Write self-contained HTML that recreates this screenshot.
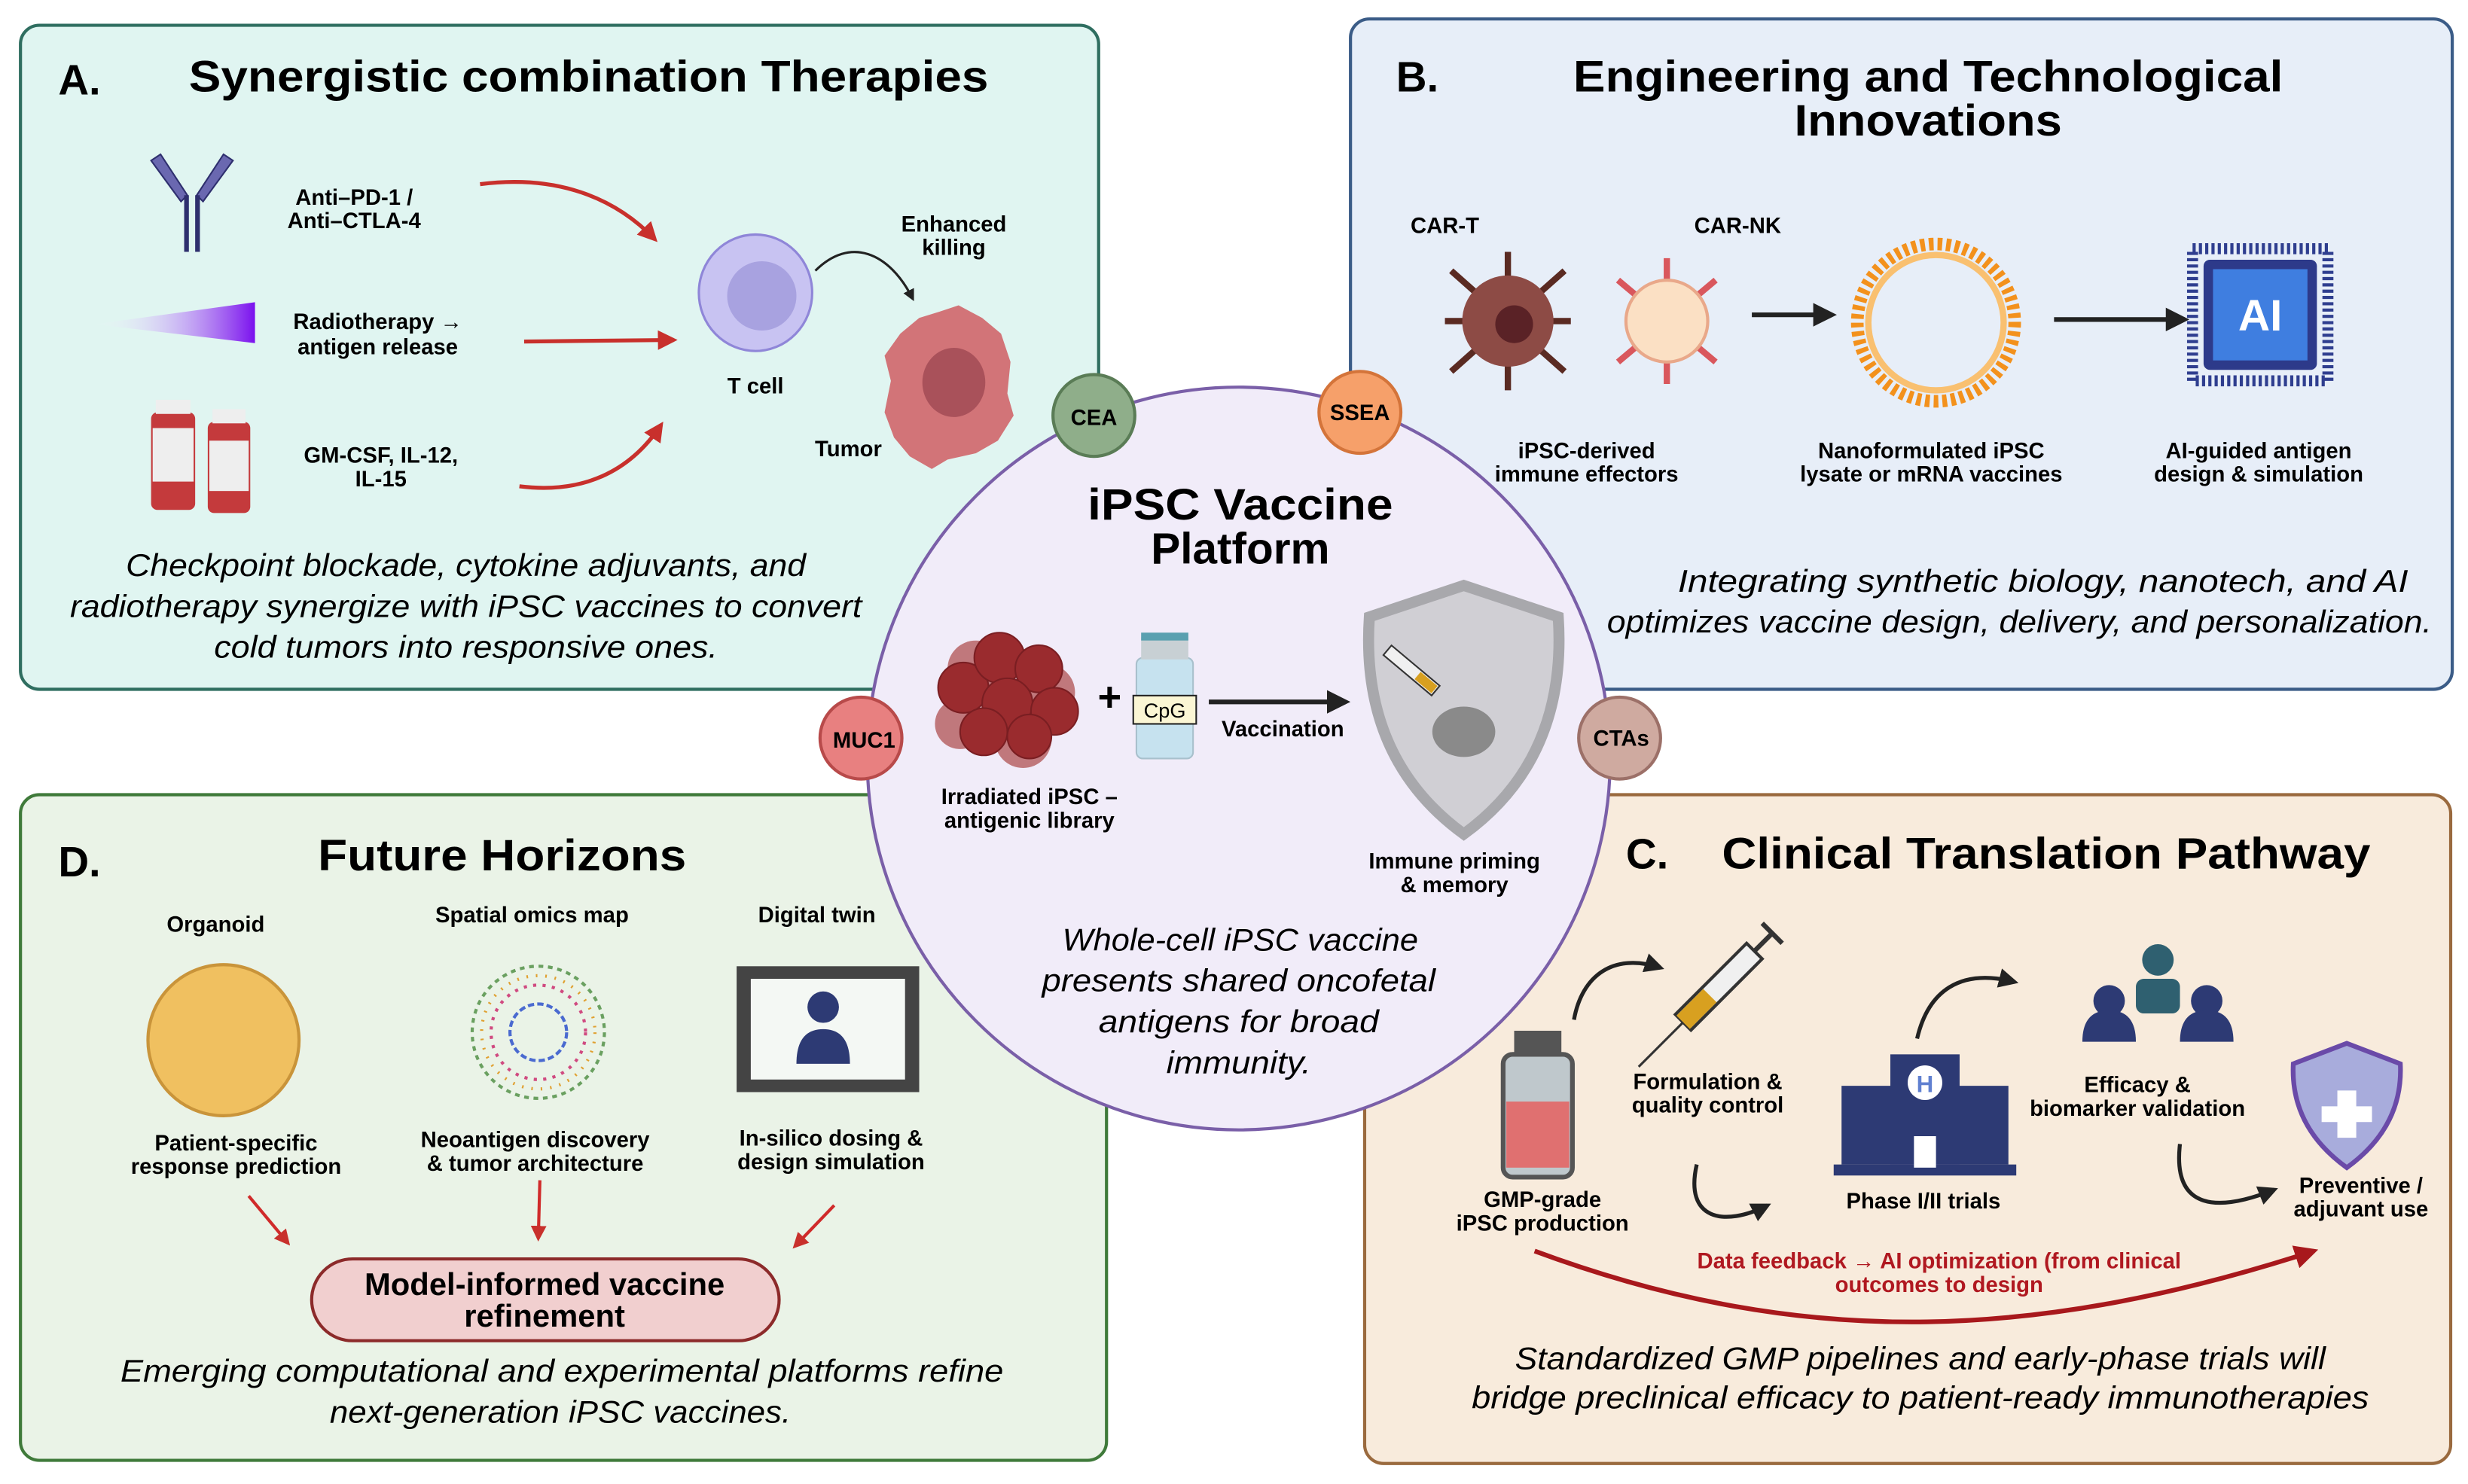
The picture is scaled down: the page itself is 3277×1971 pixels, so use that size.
<!DOCTYPE html>
<html><head><meta charset="utf-8"><style>html,body{margin:0;padding:0;background:#fff}svg{display:block}text{font-family:"Liberation Sans",sans-serif}</style></head><body>
<svg width="3277" height="1971" viewBox="0 0 1568 943" xmlns="http://www.w3.org/2000/svg">
<defs>
<marker id="ar" viewBox="0 0 10 10" refX="8" refY="5" markerWidth="5" markerHeight="5" orient="auto"><path d="M0,0L10,5L0,10z" fill="#c8302c"/></marker>
<marker id="ak" viewBox="0 0 10 10" refX="8" refY="5" markerWidth="5" markerHeight="5" orient="auto"><path d="M0,0L10,5L0,10z" fill="#222"/></marker>
<marker id="ad" viewBox="0 0 10 10" refX="8" refY="5" markerWidth="5" markerHeight="5" orient="auto"><path d="M0,0L10,5L0,10z" fill="#a8181c"/></marker>
<linearGradient id="rg" x1="0" x2="1"><stop offset="0" stop-color="#fff" stop-opacity="0"/><stop offset="1" stop-color="#7a10ee"/></linearGradient>
</defs>
<!-- Panels -->
<rect x="13" y="16" width="685" height="422" rx="12" fill="#e0f5f1" stroke="#2f6e60" stroke-width="2"/>
<rect x="858" y="12" width="700" height="426" rx="12" fill="#e7eef8" stroke="#3b5c87" stroke-width="2"/>
<rect x="13" y="505" width="690" height="423" rx="12" fill="#eaf3e7" stroke="#3f7a3a" stroke-width="2"/>
<rect x="867" y="505" width="690" height="425" rx="12" fill="#f8ebdc" stroke="#9a6a3e" stroke-width="2"/>
<!-- Panel A -->
<text x="37" y="60" font-size="27" font-weight="bold">A.</text>
<text x="120" y="58" font-size="28" font-weight="bold" textLength="508" lengthAdjust="spacingAndGlyphs">Synergistic combination Therapies</text>
<g fill="#6a68b0" stroke="#2e2f6e" stroke-width="1"><path d="M96,102l6,-4l17,26l-4,4z"/><path d="M148,102l-6,-4l-17,26l4,4z"/></g>
<rect x="117" y="124" width="3" height="36" fill="#2e2f6e"/><rect x="124" y="124" width="3" height="36" fill="#2e2f6e"/>
<g font-size="14" font-weight="bold" text-anchor="middle"><text x="225" y="130">Anti–PD-1 /</text><text x="225" y="145">Anti–CTLA-4</text>
<text x="240" y="209">Radiotherapy →</text><text x="240" y="225">antigen release</text>
<text x="242" y="294">GM-CSF, IL-12,</text><text x="242" y="309">IL-15</text>
<text x="480" y="250">T cell</text><text x="606" y="147">Enhanced</text><text x="606" y="162">killing</text><text x="539" y="290">Tumor</text></g>
<path d="M60,206L162,192L162,218z" fill="url(#rg)"/>
<g fill="#c43a3c"><rect x="96" y="262" width="28" height="62" rx="4"/><rect x="132" y="268" width="27" height="58" rx="4"/></g>
<g fill="#eee"><rect x="97" y="272" width="26" height="34"/><rect x="133" y="280" width="25" height="32"/><rect x="99" y="254" width="22" height="9"/><rect x="135" y="260" width="21" height="9"/></g>
<g fill="none" stroke="#c8302c" stroke-width="2.5" marker-end="url(#ar)"><path d="M305,117C360,110 395,130 416,152"/><path d="M333,217L428,216"/><path d="M330,309C370,314 400,300 420,270"/></g>
<ellipse cx="480" cy="186" rx="36" ry="37" fill="#c8c3f2" stroke="#8f86d8" stroke-width="1.5"/><circle cx="484" cy="188" r="22" fill="#a8a2e0"/>
<path d="M518,172C540,150 565,160 580,190" fill="none" stroke="#222" stroke-width="1.5" marker-end="url(#ak)"/>
<g transform="translate(14,0)">
<path d="M583,198l12,-4l15,8l12,10l6,18l-2,20l4,14l-10,16l-14,8l-18,4l-10,6l-14,-8l-10,-12l-6,-16l4,-20l-4,-16l10,-14l12,-10z" fill="#d27478"/>
<ellipse cx="592" cy="243" rx="20" ry="22" fill="#a9515a"/></g>
<g font-size="20" font-style="italic" text-anchor="middle"><text x="296" y="366" textLength="432" lengthAdjust="spacingAndGlyphs">Checkpoint blockade, cytokine adjuvants, and</text><text x="296" y="392" textLength="503" lengthAdjust="spacingAndGlyphs">radiotherapy synergize with iPSC vaccines to convert</text><text x="296" y="418" textLength="320" lengthAdjust="spacingAndGlyphs">cold tumors into responsive ones.</text></g>
<!-- Panel B -->
<text x="887" y="58" font-size="27" font-weight="bold">B.</text>
<text x="1225" y="58" font-size="28" font-weight="bold" text-anchor="middle" textLength="451" lengthAdjust="spacingAndGlyphs">Engineering and Technological</text>
<text x="1225" y="86" font-size="28" font-weight="bold" text-anchor="middle" textLength="170" lengthAdjust="spacingAndGlyphs">Innovations</text>
<g font-size="14" font-weight="bold" text-anchor="middle"><text x="918" y="148">CAR-T</text><text x="1104" y="148">CAR-NK</text>
<text x="1008" y="291">iPSC-derived</text><text x="1008" y="306">immune effectors</text>
<text x="1227" y="291">Nanoformulated iPSC</text><text x="1227" y="306">lysate or mRNA vaccines</text>
<text x="1435" y="291">AI-guided antigen</text><text x="1435" y="306">design &amp; simulation</text></g>
<g stroke="#5a2a22" stroke-width="4"><line x1="958" y1="160" x2="958" y2="248"/><line x1="922" y1="172" x2="994" y2="236"/><line x1="994" y1="172" x2="922" y2="236"/><line x1="918" y1="204" x2="998" y2="204"/></g>
<circle cx="958" cy="204" r="29" fill="#8d4b45"/><circle cx="962" cy="206" r="12" fill="#5a2226"/>
<g stroke="#d9575d" stroke-width="4"><line x1="1059" y1="164" x2="1059" y2="244"/><line x1="1028" y1="178" x2="1090" y2="230"/><line x1="1090" y1="178" x2="1028" y2="230"/></g>
<circle cx="1059" cy="204" r="26" fill="#fbe0c4" stroke="#e9a88a" stroke-width="2"/>
<path d="M1113,200L1164,200" stroke="#222" stroke-width="3" marker-end="url(#ak)"/>
<circle cx="1230" cy="205" r="50" fill="none" stroke="#f3911c" stroke-width="8" stroke-dasharray="3 2.5"/>
<circle cx="1230" cy="205" r="43" fill="none" stroke="#f9c070" stroke-width="4"/>
<path d="M1305,203L1388,203" stroke="#222" stroke-width="3" marker-end="url(#ak)"/>
<rect x="1393" y="158" width="86" height="84" fill="none" stroke="#2f3e8f" stroke-width="7" stroke-dasharray="2 2"/>
<rect x="1400" y="165" width="72" height="70" rx="4" fill="#2d3a8a"/><rect x="1406" y="171" width="60" height="58" fill="#3f7ee0"/>
<text x="1436" y="210" font-size="28" font-weight="bold" fill="#fff" text-anchor="middle">AI</text>
<g font-size="20" font-style="italic" text-anchor="middle"><text x="1298" y="376" textLength="464" lengthAdjust="spacingAndGlyphs">Integrating synthetic biology, nanotech, and AI</text><text x="1283" y="402" textLength="524" lengthAdjust="spacingAndGlyphs">optimizes vaccine design, delivery, and personalization.</text></g>
<!-- Panel D -->
<text x="37" y="557" font-size="27" font-weight="bold">D.</text>
<text x="319" y="553" font-size="28" font-weight="bold" text-anchor="middle" textLength="234" lengthAdjust="spacingAndGlyphs">Future Horizons</text>
<g font-size="14" font-weight="bold" text-anchor="middle"><text x="137" y="592">Organoid</text><text x="338" y="586">Spatial omics map</text><text x="519" y="586">Digital twin</text>
<text x="150" y="731">Patient-specific</text><text x="150" y="746">response prediction</text>
<text x="340" y="729">Neoantigen discovery</text><text x="340" y="744">&amp; tumor architecture</text>
<text x="528" y="728">In-silico dosing &amp;</text><text x="528" y="743">design simulation</text></g>
<circle cx="142" cy="661" r="48" fill="#f0c060" stroke="#c9943a" stroke-width="2"/>
<g fill="none" stroke-width="2"><circle cx="342" cy="656" r="42" stroke="#6aa060" stroke-dasharray="3 3"/><circle cx="342" cy="656" r="30" stroke="#d04a80" stroke-dasharray="2 4"/><circle cx="342" cy="656" r="18" stroke="#4a6ad0" stroke-dasharray="4 2"/><circle cx="342" cy="656" r="36" stroke="#e0a030" stroke-dasharray="1 5"/></g>
<rect x="468" y="614" width="116" height="80" fill="#444"/><rect x="477" y="622" width="98" height="64" fill="#f4f8f4"/>
<circle cx="523" cy="640" r="10" fill="#2d3a74"/><path d="M506,676q0,-22 17,-22q17,0 17,22z" fill="#2d3a74"/>
<g stroke="#d02a2a" stroke-width="2" marker-end="url(#ar)"><path d="M158,760L183,790"/><path d="M343,750L342,787"/><path d="M530,766L505,792"/></g>
<rect x="198" y="800" width="297" height="52" rx="26" fill="#f1cfcf" stroke="#8c2a2a" stroke-width="2"/>
<text x="346" y="823" font-size="20" font-weight="bold" text-anchor="middle">Model-informed vaccine</text>
<text x="346" y="843" font-size="20" font-weight="bold" text-anchor="middle">refinement</text>
<g font-size="20" font-style="italic" text-anchor="middle"><text x="357" y="878" textLength="561" lengthAdjust="spacingAndGlyphs">Emerging computational and experimental platforms refine</text><text x="356" y="904" textLength="293" lengthAdjust="spacingAndGlyphs">next-generation iPSC vaccines.</text></g>
<!-- Panel C -->
<text x="1033" y="552" font-size="27" font-weight="bold">C.</text>
<text x="1300" y="552" font-size="28" font-weight="bold" text-anchor="middle" textLength="412" lengthAdjust="spacingAndGlyphs">Clinical Translation Pathway</text>
<g font-size="14" font-weight="bold" text-anchor="middle"><text x="1085" y="692">Formulation &amp;</text><text x="1085" y="707">quality control</text>
<text x="980" y="767">GMP-grade</text><text x="980" y="782">iPSC production</text>
<text x="1222" y="768">Phase I/II trials</text>
<text x="1358" y="694">Efficacy &amp;</text><text x="1358" y="709">biomarker validation</text>
<text x="1500" y="758">Preventive /</text><text x="1500" y="773">adjuvant use</text></g>
<rect x="955" y="670" width="44" height="78" rx="6" fill="#bfc8cc" stroke="#555" stroke-width="3"/><rect x="957" y="700" width="40" height="42" fill="#e07070"/>
<rect x="962" y="655" width="30" height="14" fill="#555"/>
<g fill="none" stroke="#222" stroke-width="2.5" marker-end="url(#ak)"><path d="M1000,648C1005,620 1025,605 1055,615"/><path d="M1078,740C1070,775 1095,780 1123,766"/><path d="M1218,660C1225,630 1245,615 1280,624"/><path d="M1385,727C1380,770 1410,770 1445,756"/></g>
<g transform="rotate(-45 1092 627)"><rect x="1060" y="620" width="64" height="14" fill="#f0f0f0" stroke="#333" stroke-width="2"/><rect x="1060" y="621" width="24" height="12" fill="#d8a020"/><line x1="1060" y1="627" x2="1020" y2="627" stroke="#333" stroke-width="1.5"/><line x1="1124" y1="627" x2="1140" y2="627" stroke="#333" stroke-width="3"/><line x1="1140" y1="618" x2="1140" y2="636" stroke="#333" stroke-width="3"/></g>
<rect x="1170" y="690" width="106" height="50" fill="#2d3a74"/><rect x="1201" y="670" width="44" height="70" fill="#2d3a74"/><rect x="1165" y="740" width="116" height="7" fill="#2d3a74"/>
<circle cx="1223" cy="688" r="11" fill="#fff"/><text x="1223" y="694" font-size="15" font-weight="bold" fill="#6080d0" text-anchor="middle">H</text>
<rect x="1216" y="722" width="14" height="20" fill="#fff"/>
<g fill="#2d3a74"><circle cx="1340" cy="636" r="10"/><path d="M1323,662q0,-20 17,-20q17,0 17,20z"/><circle cx="1402" cy="636" r="10"/><path d="M1385,662q0,-20 17,-20q17,0 17,20z"/></g>
<rect x="1357" y="622" width="28" height="22" rx="5" fill="#2f6070"/><circle cx="1371" cy="610" r="10" fill="#2f6070"/>
<path d="M1491,663l-34,13q-2,40 34,66q36,-26 34,-66z" fill="#a8acdc" stroke="#6a4aa8" stroke-width="3"/>
<path d="M1485,693h12v10h10v10h-10v10h-12v-10h-10v-10h10z" fill="#fff"/>
<path d="M975,795C1150,860 1300,850 1470,795" fill="none" stroke="#a8181c" stroke-width="3" marker-end="url(#ad)"/>
<text x="1232" y="806" font-size="14" font-weight="bold" fill="#b01820" text-anchor="middle">Data feedback → AI optimization (from clinical</text>
<text x="1232" y="821" font-size="14" font-weight="bold" fill="#b01820" text-anchor="middle">outcomes to design</text>
<g font-size="20" font-style="italic" text-anchor="middle"><text x="1220" y="870" textLength="515" lengthAdjust="spacingAndGlyphs">Standardized GMP pipelines and early-phase trials will</text><text x="1220" y="895" textLength="570" lengthAdjust="spacingAndGlyphs">bridge preclinical efficacy to patient-ready immunotherapies</text></g>
<!-- Center circle -->
<circle cx="787" cy="482" r="236" fill="#f1ecf9" stroke="#7a5fa8" stroke-width="2"/>
<text x="788" y="330" font-size="28" font-weight="bold" text-anchor="middle" textLength="194" lengthAdjust="spacingAndGlyphs">iPSC Vaccine</text>
<text x="788" y="358" font-size="28" font-weight="bold" text-anchor="middle">Platform</text>
<g fill="#c0787c"><circle cx="620" cy="425" r="18"/><circle cx="665" cy="440" r="18"/><circle cx="610" cy="460" r="16"/><circle cx="650" cy="470" r="18"/></g>
<g fill="#9a2b2e" stroke="#7a1e22"><circle cx="612" cy="437" r="16"/><circle cx="635" cy="418" r="16"/><circle cx="660" cy="425" r="15"/><circle cx="640" cy="447" r="16"/><circle cx="670" cy="452" r="15"/><circle cx="625" cy="465" r="15"/><circle cx="654" cy="468" r="14"/></g>
<text x="705" y="452" font-size="26" font-weight="bold" text-anchor="middle">+</text>
<rect x="722" y="418" width="36" height="64" rx="4" fill="#c6e2ef" stroke="#a8c0cc"/><rect x="725" y="405" width="30" height="14" fill="#c8d0d4"/><rect x="725" y="402" width="30" height="5" fill="#5aa0b0"/>
<rect x="720" y="442" width="40" height="18" fill="#fbf6d4" stroke="#222"/><text x="740" y="456" font-size="13" text-anchor="middle">CpG</text>
<path d="M768,446L855,446" stroke="#222" stroke-width="3" marker-end="url(#ak)"/>
<text x="815" y="468" font-size="14" font-weight="bold" text-anchor="middle">Vaccination</text>
<path d="M930,372l-60,20q-6,90 60,138q66,-48 60,-138z" fill="#d0cfd4" stroke="#a8a8ac" stroke-width="7"/>
<ellipse cx="930" cy="465" rx="20" ry="16" fill="#8a8a8a"/>
<g transform="rotate(40 900 430)"><rect x="875" y="425" width="40" height="8" fill="#f0f0f0" stroke="#333"/><rect x="900" y="426" width="14" height="6" fill="#d8a020"/></g>
<g font-size="14" font-weight="bold" text-anchor="middle"><text x="654" y="511">Irradiated iPSC –</text><text x="654" y="526">antigenic library</text><text x="924" y="552">Immune priming</text><text x="924" y="567">&amp; memory</text></g>
<g font-size="20" font-style="italic" text-anchor="middle"><text x="788" y="604" textLength="226" lengthAdjust="spacingAndGlyphs">Whole-cell iPSC vaccine</text><text x="787" y="630" textLength="250" lengthAdjust="spacingAndGlyphs">presents shared oncofetal</text><text x="787" y="656" textLength="178" lengthAdjust="spacingAndGlyphs">antigens for broad</text><text x="787" y="682" textLength="92" lengthAdjust="spacingAndGlyphs">immunity.</text></g>
<!-- badges -->
<g font-size="14" font-weight="bold" text-anchor="middle">
<circle cx="695" cy="264" r="26" fill="#8fae8a" stroke="#5a7c56" stroke-width="2"/><text x="695" y="270">CEA</text>
<circle cx="864" cy="262" r="26" fill="#f6a06a" stroke="#d4743a" stroke-width="2"/><text x="864" y="267">SSEA</text>
<circle cx="547" cy="469" r="26" fill="#e88080" stroke="#b84a4a" stroke-width="2"/><text x="549" y="475">MUC1</text>
<circle cx="1029" cy="469" r="26" fill="#cfaaa0" stroke="#9c7068" stroke-width="2"/><text x="1030" y="474">CTAs</text></g>
</svg>
</body></html>
